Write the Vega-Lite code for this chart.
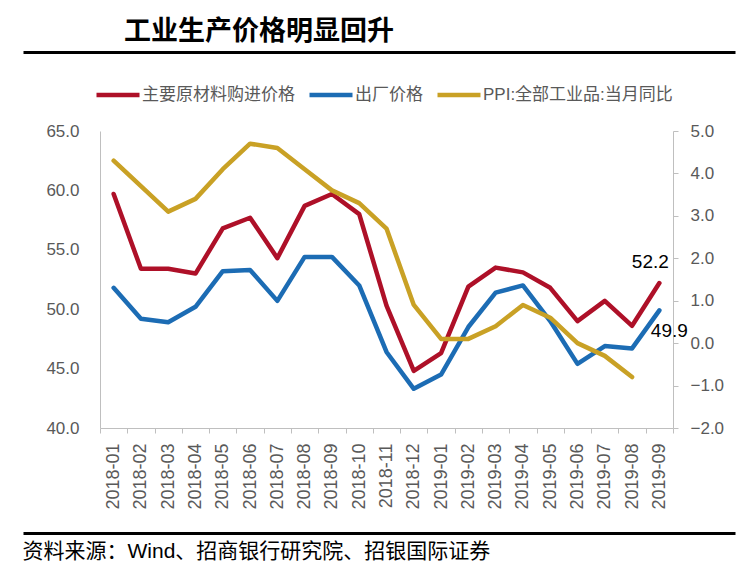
{
  "$schema": "https://vega.github.io/schema/vega-lite/v6.json",
  "width": 573,
  "height": 297,
  "autosize": {"type": "none"},
  "padding": {"left": 100, "top": 131, "right": 69, "bottom": 143},
  "background": "white",
  "title": {"text": "工业生产价格明显回升", "anchor": "start", "frame": "group", "dx": 24, "offset": 6, "font": "Noto Sans CJK SC", "fontSize": 27, "fontWeight": "bold", "color": "#000000"},
  "config": {"view": {"stroke": null}, "font": "Liberation Sans"},
  "datasets": {
    "pmi": [
      {"month": "2018-01", "series": "主要原材料购进价格", "value": 59.7},
      {"month": "2018-02", "series": "主要原材料购进价格", "value": 53.4},
      {"month": "2018-03", "series": "主要原材料购进价格", "value": 53.4},
      {"month": "2018-04", "series": "主要原材料购进价格", "value": 53.0},
      {"month": "2018-05", "series": "主要原材料购进价格", "value": 56.8},
      {"month": "2018-06", "series": "主要原材料购进价格", "value": 57.7},
      {"month": "2018-07", "series": "主要原材料购进价格", "value": 54.3},
      {"month": "2018-08", "series": "主要原材料购进价格", "value": 58.7},
      {"month": "2018-09", "series": "主要原材料购进价格", "value": 59.7},
      {"month": "2018-10", "series": "主要原材料购进价格", "value": 58.0},
      {"month": "2018-11", "series": "主要原材料购进价格", "value": 50.3},
      {"month": "2018-12", "series": "主要原材料购进价格", "value": 44.8},
      {"month": "2019-01", "series": "主要原材料购进价格", "value": 46.3},
      {"month": "2019-02", "series": "主要原材料购进价格", "value": 51.9},
      {"month": "2019-03", "series": "主要原材料购进价格", "value": 53.5},
      {"month": "2019-04", "series": "主要原材料购进价格", "value": 53.1},
      {"month": "2019-05", "series": "主要原材料购进价格", "value": 51.8},
      {"month": "2019-06", "series": "主要原材料购进价格", "value": 49.0},
      {"month": "2019-07", "series": "主要原材料购进价格", "value": 50.7},
      {"month": "2019-08", "series": "主要原材料购进价格", "value": 48.6},
      {"month": "2019-09", "series": "主要原材料购进价格", "value": 52.2},
      {"month": "2018-01", "series": "出厂价格", "value": 51.8},
      {"month": "2018-02", "series": "出厂价格", "value": 49.2},
      {"month": "2018-03", "series": "出厂价格", "value": 48.9},
      {"month": "2018-04", "series": "出厂价格", "value": 50.2},
      {"month": "2018-05", "series": "出厂价格", "value": 53.2},
      {"month": "2018-06", "series": "出厂价格", "value": 53.3},
      {"month": "2018-07", "series": "出厂价格", "value": 50.7},
      {"month": "2018-08", "series": "出厂价格", "value": 54.4},
      {"month": "2018-09", "series": "出厂价格", "value": 54.4},
      {"month": "2018-10", "series": "出厂价格", "value": 52.0},
      {"month": "2018-11", "series": "出厂价格", "value": 46.4},
      {"month": "2018-12", "series": "出厂价格", "value": 43.3},
      {"month": "2019-01", "series": "出厂价格", "value": 44.5},
      {"month": "2019-02", "series": "出厂价格", "value": 48.5},
      {"month": "2019-03", "series": "出厂价格", "value": 51.4},
      {"month": "2019-04", "series": "出厂价格", "value": 52.0},
      {"month": "2019-05", "series": "出厂价格", "value": 49.0},
      {"month": "2019-06", "series": "出厂价格", "value": 45.4},
      {"month": "2019-07", "series": "出厂价格", "value": 46.9},
      {"month": "2019-08", "series": "出厂价格", "value": 46.7},
      {"month": "2019-09", "series": "出厂价格", "value": 49.9}
    ],
    "ppi": [
      {"month": "2018-01", "series": "PPI:全部工业品:当月同比", "ppi": 4.3},
      {"month": "2018-02", "series": "PPI:全部工业品:当月同比", "ppi": 3.7},
      {"month": "2018-03", "series": "PPI:全部工业品:当月同比", "ppi": 3.1},
      {"month": "2018-04", "series": "PPI:全部工业品:当月同比", "ppi": 3.4},
      {"month": "2018-05", "series": "PPI:全部工业品:当月同比", "ppi": 4.1},
      {"month": "2018-06", "series": "PPI:全部工业品:当月同比", "ppi": 4.7},
      {"month": "2018-07", "series": "PPI:全部工业品:当月同比", "ppi": 4.6},
      {"month": "2018-08", "series": "PPI:全部工业品:当月同比", "ppi": 4.1},
      {"month": "2018-09", "series": "PPI:全部工业品:当月同比", "ppi": 3.6},
      {"month": "2018-10", "series": "PPI:全部工业品:当月同比", "ppi": 3.3},
      {"month": "2018-11", "series": "PPI:全部工业品:当月同比", "ppi": 2.7},
      {"month": "2018-12", "series": "PPI:全部工业品:当月同比", "ppi": 0.9},
      {"month": "2019-01", "series": "PPI:全部工业品:当月同比", "ppi": 0.1},
      {"month": "2019-02", "series": "PPI:全部工业品:当月同比", "ppi": 0.1},
      {"month": "2019-03", "series": "PPI:全部工业品:当月同比", "ppi": 0.4},
      {"month": "2019-04", "series": "PPI:全部工业品:当月同比", "ppi": 0.9},
      {"month": "2019-05", "series": "PPI:全部工业品:当月同比", "ppi": 0.6},
      {"month": "2019-06", "series": "PPI:全部工业品:当月同比", "ppi": 0.0},
      {"month": "2019-07", "series": "PPI:全部工业品:当月同比", "ppi": -0.3},
      {"month": "2019-08", "series": "PPI:全部工业品:当月同比", "ppi": -0.8}
    ],
    "frame": [{"p": 0}, {"p": 1}]
  },
  "layer": [
    {
      "layer": [
        {
          "data": {"name": "pmi"},
          "mark": {"type": "line", "strokeWidth": 4.5, "strokeJoin": "round", "strokeCap": "round"},
          "encoding": {
            "x": {"field": "month", "type": "ordinal", "scale": {"type": "band", "paddingInner": 0, "paddingOuter": 0},
                  "axis": {"orient": "bottom", "title": null, "labelAngle": 270, "labelFontSize": 18, "labelFont": "Liberation Sans", "labelColor": "#595959", "labelPadding": 10, "ticks": true, "tickSize": 5, "tickColor": "#BFBFBF", "tickBand": "extent", "domainColor": "#BFBFBF", "grid": false}},
            "y": {"field": "value", "type": "quantitative", "scale": {"domain": [40, 65], "zero": false, "nice": false},
                  "axis": {"orient": "left", "title": null, "values": [40, 45, 50, 55, 60, 65], "format": ".1f", "labelFontSize": 17, "labelFont": "Liberation Sans", "labelColor": "#595959", "labelPadding": 21, "ticks": false, "domainColor": "#BFBFBF", "grid": false}},
            "color": {"field": "series", "type": "nominal",
                      "scale": {"domain": ["主要原材料购进价格", "出厂价格", "PPI:全部工业品:当月同比"], "range": ["#AE1028", "#1C6CB4", "#C9A125"]},
                      "legend": {"orient": "none", "legendX": -6, "legendY": -60, "direction": "horizontal", "title": null, "padding": 0,
                                 "symbolType": "stroke", "symbolStrokeWidth": 4.5, "symbolSize": 1849,
                                 "labelFontSize": 17, "labelFont": "Liberation Sans, Noto Sans CJK SC", "labelColor": "#595959", "labelOffset": 0, "columnPadding": 5, "labelLimit": 400}}
          }
        },
        {
          "data": {"name": "pmi"},
          "transform": [{"filter": "datum.month == '2019-09' && datum.series == '主要原材料购进价格'"}],
          "mark": {"type": "text", "dx": -9, "dy": -21, "fontSize": 19, "font": "Liberation Sans", "color": "#000000"},
          "encoding": {
            "x": {"field": "month", "type": "ordinal"},
            "y": {"field": "value", "type": "quantitative", "scale": {"domain": [40, 65], "zero": false, "nice": false}, "axis": null},
            "text": {"field": "value", "type": "quantitative", "format": ".1f"}
          }
        },
        {
          "data": {"name": "pmi"},
          "transform": [{"filter": "datum.month == '2019-09' && datum.series == '出厂价格'"}],
          "mark": {"type": "text", "dx": 10, "dy": 21, "fontSize": 19, "font": "Liberation Sans", "color": "#000000"},
          "encoding": {
            "x": {"field": "month", "type": "ordinal"},
            "y": {"field": "value", "type": "quantitative", "scale": {"domain": [40, 65], "zero": false, "nice": false}, "axis": null},
            "text": {"field": "value", "type": "quantitative", "format": ".1f"}
          }
        },
        {
          "data": {"name": "ppi"},
          "mark": {"type": "line", "strokeWidth": 4.5, "strokeJoin": "round", "strokeCap": "round"},
          "encoding": {
            "x": {"field": "month", "type": "ordinal"},
            "y": {"field": "ppi", "type": "quantitative", "scale": {"domain": [-2, 5], "zero": false, "nice": false},
                  "axis": {"orient": "right", "title": null, "values": [-2, -1, 0, 1, 2, 3, 4, 5], "format": ".1f", "labelFontSize": 17, "labelFont": "Liberation Sans", "labelColor": "#595959", "labelPadding": 12, "ticks": true, "tickSize": 5, "tickColor": "#BFBFBF", "domainColor": "#BFBFBF", "grid": false}},
            "color": {"field": "series", "type": "nominal"}
          }
        }
      ],
      "resolve": {"scale": {"y": "independent"}, "axis": {"y": "independent"}}
    },
    {
      "data": {"name": "frame"},
      "mark": {"type": "point", "opacity": 0},
      "encoding": {
        "x": {"field": "p", "type": "quantitative", "scale": {"domain": [0, 1], "range": [-77, 635], "nice": false, "zero": false},
              "axis": {"orient": "top", "offset": 79, "title": null, "labels": false, "ticks": false, "grid": false, "domainColor": "#000000", "domainWidth": 3}}
      }
    },
    {
      "data": {"name": "frame"},
      "mark": {"type": "point", "opacity": 0},
      "encoding": {
        "x": {"field": "p", "type": "quantitative", "scale": {"domain": [0, 1], "range": [-77, 635], "nice": false, "zero": false},
              "axis": {"orient": "bottom", "offset": 105, "title": "资料来源：Wind、招商银行研究院、招银国际证券", "titleFont": "Liberation Sans, Noto Sans CJK SC", "titleFontSize": 21, "titleFontWeight": "normal", "titleColor": "#000000", "titleAnchor": "start", "titleAlign": "left", "titleBaseline": "top", "titleX": -78, "titleY": 7, "labels": false, "ticks": false, "grid": false, "domainColor": "#000000", "domainWidth": 3}}
      }
    }
  ],
  "resolve": {"scale": {"x": "independent", "y": "independent"}, "axis": {"x": "independent"}}
}
